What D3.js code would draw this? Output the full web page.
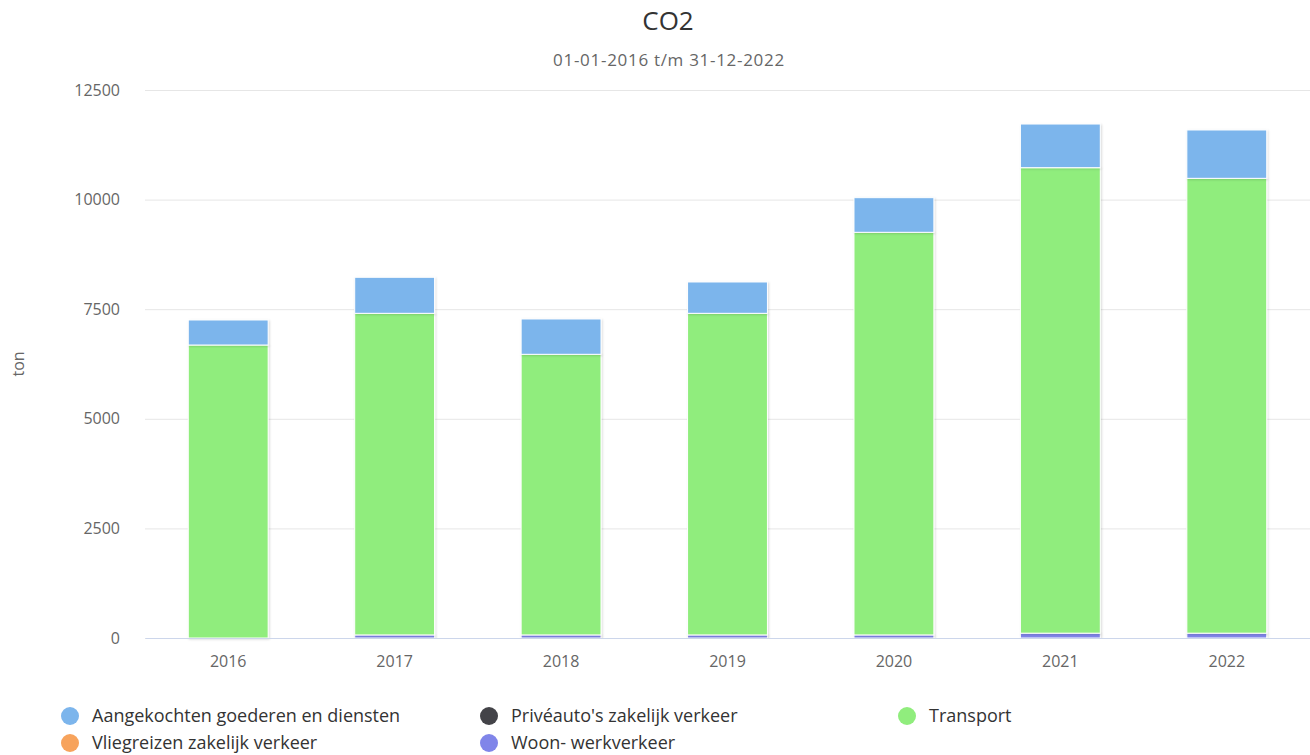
<!DOCTYPE html>
<html lang="nl">
<head>
<meta charset="utf-8">
<title>CO2</title>
<script src="https://cdn.jsdelivr.net/npm/d3@7/dist/d3.min.js"></script>
<style>
  body { margin: 0; background: #fff; }
  svg { font-family: "Open Sans", sans-serif; }
</style>
</head>
<body>
<script>
var w = 1310, h = 755;
var margin = { top: 90, right: 0, bottom: 117, left: 145 };

// data (ton)
var years = ["2016", "2017", "2018", "2019", "2020", "2021", "2022"];
var seriesNames = ["Aangekochten goederen en diensten", "Privéauto's zakelijk verkeer", "Transport", "Vliegreizen zakelijk verkeer", "Woon- werkverkeer"];
var seriesColors = ["#7cb5ec", "#434348", "#90ed7d", "#f7a35c", "#8085e9"];
var aangekochten = [571, 822, 806, 715, 790, 996, 1103];
var priveauto = [0, 0, 0, 0, 0, 0, 0];
var transport = [6683, 7336, 6401, 7336, 9184, 10618, 10375];
var vliegreizen = [0, 0, 0, 0, 0, 0, 0];
var woonwerk = [0, 70, 70, 70, 70, 110, 110];
var yTicks = [0, 2500, 5000, 7500, 10000, 12500];

var allSeries = [aangekochten, priveauto, transport, vliegreizen, woonwerk];
var rows = years.map(function(y, i) {
  var r = { year: y };
  seriesNames.forEach(function(n, j) { r[n] = allSeries[j][i]; });
  return r;
});

// first series sits on top, like the original
var stack = d3.stack().keys(seriesNames.slice().reverse());
var stacked = stack(rows);

var xScale = d3.scaleBand()
  .domain(years)
  .range([margin.left, w - margin.right])
  .paddingInner(0.52)
  .paddingOuter(0.26);

var yScale = d3.scaleLinear()
  .domain([0, 12500])
  .range([h - margin.bottom, margin.top]);

var svg = d3.select("body").append("svg")
  .attr("width", w)
  .attr("height", h);

var defs = svg.append("defs");
var f = defs.append("filter").attr("id", "shadow")
  .attr("x", "-10%").attr("y", "-10%").attr("width", "120%").attr("height", "120%");
f.append("feDropShadow")
  .attr("dx", 1).attr("dy", 1).attr("stdDeviation", 1)
  .attr("flood-color", "#000").attr("flood-opacity", 0.15);

// title
svg.append("text")
  .attr("x", 668).attr("y", 30)
  .attr("text-anchor", "middle")
  .attr("font-size", "26px")
  .attr("fill", "#333")
  .text("CO2");

svg.append("text")
  .attr("x", 669).attr("y", 66)
  .attr("text-anchor", "middle")
  .attr("font-size", "17px")
  .attr("letter-spacing", "0.7px")
  .attr("fill", "#666")
  .text("01-01-2016 t/m 31-12-2022");

// grid
var yAxis = d3.axisLeft(yScale)
  .tickValues(yTicks)
  .tickFormat(d3.format("d"))
  .tickSize(-(w - margin.left - margin.right))
  .tickPadding(25);

var gy = svg.append("g")
  .attr("transform", "translate(" + margin.left + ",0)")
  .call(yAxis);
gy.select(".domain").remove();
gy.selectAll(".tick line").attr("stroke", "#e6e6e6");
gy.selectAll(".tick text")
  .attr("fill", "#666")
  .attr("font-size", "16px")
  .attr("font-family", "Open Sans, sans-serif");

svg.append("text")
  .attr("transform", "translate(24," + yScale(6250) + ") rotate(-90)")
  .attr("text-anchor", "middle")
  .attr("font-size", "16px")
  .attr("fill", "#666")
  .text("ton");

// bars
var groups = svg.append("g").selectAll("g")
  .data(stacked)
  .enter()
  .append("g")
  .attr("fill", function(d) { return seriesColors[seriesNames.indexOf(d.key)]; });

groups.selectAll("rect")
  .data(function(d) { return d; })
  .enter()
  .append("rect")
  .filter(function(d) { return d[1] - d[0] > 0; })
  .attr("x", function(d) { return xScale(d.data.year); })
  .attr("y", function(d) { return yScale(d[1]); })
  .attr("width", xScale.bandwidth())
  .attr("height", function(d) { return yScale(d[0]) - yScale(d[1]); })
  .attr("stroke", "#fff")
  .attr("stroke-width", 1)
  .attr("filter", "url(#shadow)");

// x axis
var xAxis = d3.axisBottom(xScale).tickSize(0).tickPadding(18);
var gx = svg.append("g")
  .attr("transform", "translate(0," + (h - margin.bottom) + ")")
  .call(xAxis);
gx.select(".domain").attr("stroke", "#ccd6eb");
gx.selectAll(".tick text")
  .attr("fill", "#666")
  .attr("font-size", "16px")
  .attr("font-family", "Open Sans, sans-serif");

// legend
var legendX = [70, 489, 907];
var legend = svg.append("g").selectAll("g")
  .data(seriesNames)
  .enter()
  .append("g")
  .attr("transform", function(d, i) {
    return "translate(" + legendX[i % 3] + "," + (716 + Math.floor(i / 3) * 27) + ")";
  });

legend.append("circle")
  .attr("r", 9)
  .attr("cy", 0)
  .attr("fill", function(d, i) { return seriesColors[i]; });

legend.append("text")
  .attr("x", 22)
  .attr("dy", "0.35em")
  .attr("font-size", "18px")
  .attr("fill", "#333")
  .text(function(d) { return d; });
</script>
</body>
</html>
